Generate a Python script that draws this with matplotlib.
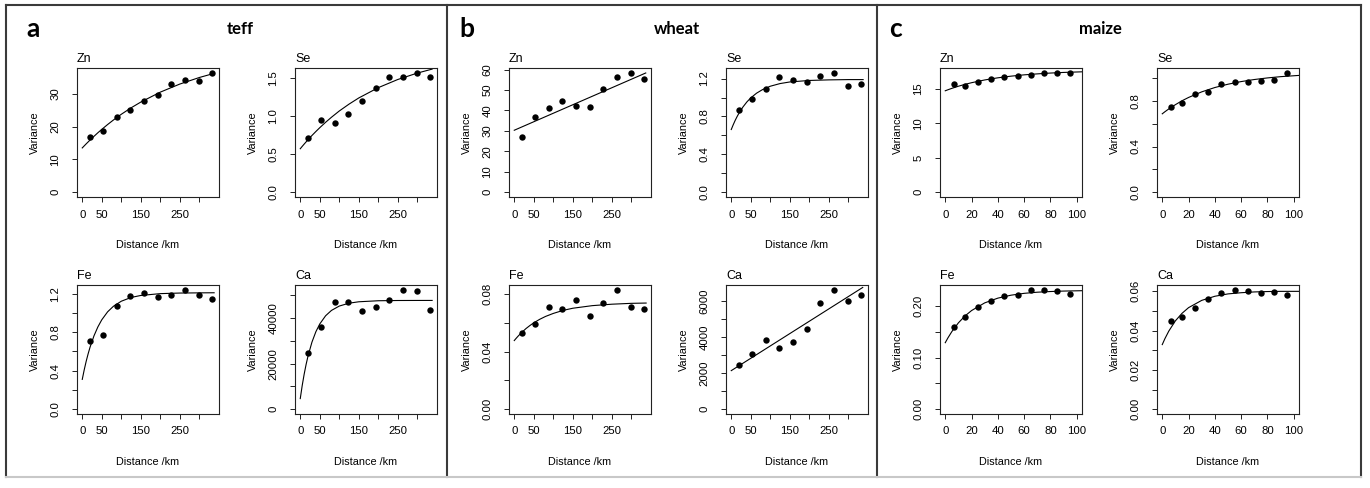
import matplotlib
matplotlib.use("Agg")
import matplotlib.pyplot as plt
from matplotlib.lines import Line2D

plt.rcParams['font.family'] = ['Liberation Sans', 'DejaVu Sans']

W, H = 1370, 488

crops = ["teff", "wheat", "maize"]
panel_letters = ["a", "b", "c"]
elements = ["Zn", "Se", "Fe", "Ca"]

# lag distances (km)
lag_teff_wheat = [21, 54, 88, 122, 158, 193, 228, 263, 298, 333]
lag_maize = [7, 15, 25, 35, 45, 55, 65, 75, 85, 95]

# empirical variances
teff_zn = [16.8, 18.8, 22.9, 25.1, 27.9, 29.6, 32.9, 34.2, 34.0, 36.4]
teff_se = [0.71, 0.947, 0.912, 1.026, 1.193, 1.36, 1.509, 1.509, 1.566, 1.509]
teff_fe = [0.714, 0.776, 1.076, 1.176, 1.207, 1.169, 1.19, 1.241, 1.19, 1.145]
teff_ca = [24781, 36152, 47085, 47230, 43149, 44898, 47813, 52478, 51749, 43440]
wheat_zn = [27.2, 36.9, 41.3, 44.7, 42.4, 41.8, 50.6, 56.1, 58.4, 55.6]
wheat_se = [0.870, 0.989, 1.095, 1.215, 1.187, 1.162, 1.222, 1.261, 1.120, 1.144]
wheat_fe = [0.0529, 0.0593, 0.0710, 0.0694, 0.0756, 0.0648, 0.0736, 0.0828, 0.0710, 0.0697]
wheat_ca = [2444, 3093, 3852, 3389, 3722, 4444, 5926, 6648, 6019, 6370]
maize_zn = [15.63, 15.34, 16.01, 16.35, 16.64, 16.88, 16.98, 17.27, 17.22, 17.32]
maize_se = [0.745, 0.782, 0.855, 0.873, 0.943, 0.964, 0.964, 0.969, 0.978, 1.045]
maize_fe = [0.160, 0.1787, 0.1974, 0.2097, 0.2194, 0.2206, 0.2316, 0.2303, 0.2297, 0.2232]
maize_ca = [0.0447, 0.0471, 0.0515, 0.0563, 0.0590, 0.0608, 0.0602, 0.0590, 0.0597, 0.0583]

# fitted model curves
fit_x_tw = [0, 5, 10, 15, 20, 30, 40, 50, 65, 80, 100, 125, 150, 200, 250, 300, 338]
teff_zn_fit = [13.5, 14.12, 14.73, 15.32, 15.90, 17.03, 18.12, 19.15, 20.63, 22.02, 23.75, 25.71, 27.47, 30.5, 32.96, 34.96, 36.22]
teff_se_fit = [0.57, 0.601, 0.631, 0.660, 0.689, 0.744, 0.796, 0.846, 0.917, 0.983, 1.065, 1.155, 1.236, 1.371, 1.478, 1.562, 1.614]
teff_fe_fit = [0.31, 0.409, 0.497, 0.575, 0.645, 0.762, 0.855, 0.929, 1.012, 1.070, 1.122, 1.161, 1.182, 1.201, 1.207, 1.209, 1.210]
teff_ca_fit = [4665, 10406, 15384, 19702, 23442, 29493, 34044, 37460, 41067, 43413, 45324, 46588, 47205, 47658, 47766, 47791, 47800]
wheat_se_fit = [0.662, 0.712, 0.758, 0.799, 0.836, 0.900, 0.953, 0.996, 1.046, 1.083, 1.119, 1.147, 1.164, 1.180, 1.186, 1.189, 1.189]
wheat_fe_fit = [0.0476, 0.0492, 0.0507, 0.0521, 0.0534, 0.0559, 0.0580, 0.0599, 0.0623, 0.0643, 0.0664, 0.0685, 0.0700, 0.0718, 0.0728, 0.0734, 0.0736]
fit_x_line = [0, 337]
wheat_zn_fit = [30.3, 58.3]
wheat_ca_fit = [2148, 6778]
fit_x_maize = [0, 2, 5, 10, 15, 20, 30, 40, 50, 60, 70, 80, 90, 104]
maize_zn_fit = [14.71, 14.855, 15.06, 15.37, 15.64, 15.88, 16.28, 16.59, 16.83, 17.02, 17.16, 17.28, 17.37, 17.46]
maize_se_fit = [0.686, 0.704, 0.729, 0.766, 0.800, 0.829, 0.878, 0.916, 0.945, 0.968, 0.986, 1.000, 1.011, 1.022]
maize_fe_fit = [0.129, 0.1382, 0.1505, 0.1675, 0.1808, 0.1913, 0.2062, 0.2154, 0.2211, 0.2247, 0.2269, 0.2282, 0.2291, 0.2298]
maize_ca_fit = [0.0329, 0.0359, 0.0398, 0.0450, 0.0488, 0.0517, 0.0554, 0.0575, 0.0587, 0.0593, 0.0597, 0.0599, 0.0600, 0.0600]

# x axis ticks
xticks_tw = [0, 50, 100, 150, 200, 250, 300]
xticklabels_tw = ["0", "50", "", "150", "", "250", ""]
xticks_maize = [0, 20, 40, 60, 80, 100]
xticklabels_maize = ["0", "20", "40", "60", "80", "100"]
xrange_tw = (0, 337)
xrange_maize = (0, 100)

# y axis ticks
teff_zn_yticks = [0, 10, 20, 30]
teff_zn_ylabels = ["0", "10", "20", "30"]
teff_se_yticks = [0, 0.5, 1.0, 1.5]
teff_se_ylabels = ["0.0", "0.5", "1.0", "1.5"]
teff_fe_yticks = [0, 0.2, 0.4, 0.6, 0.8, 1.0, 1.2]
teff_fe_ylabels = ["0.0", "", "0.4", "", "0.8", "", "1.2"]
teff_ca_yticks = [0, 10000, 20000, 30000, 40000, 50000]
teff_ca_ylabels = ["0", "", "20000", "", "40000", ""]
wheat_zn_yticks = [0, 10, 20, 30, 40, 50, 60]
wheat_zn_ylabels = ["0", "10", "20", "30", "40", "50", "60"]
wheat_se_yticks = [0, 0.2, 0.4, 0.6, 0.8, 1.0, 1.2]
wheat_se_ylabels = ["0.0", "", "0.4", "", "0.8", "", "1.2"]
wheat_fe_yticks = [0, 0.02, 0.04, 0.06, 0.08]
wheat_fe_ylabels = ["0.00", "", "0.04", "", "0.08"]
wheat_ca_yticks = [0, 1000, 2000, 3000, 4000, 5000, 6000]
wheat_ca_ylabels = ["0", "", "2000", "", "4000", "", "6000"]
maize_zn_yticks = [0, 5, 10, 15]
maize_zn_ylabels = ["0", "5", "10", "15"]
maize_se_yticks = [0, 0.2, 0.4, 0.6, 0.8, 1.0]
maize_se_ylabels = ["0.0", "", "0.4", "", "0.8", ""]
maize_fe_yticks = [0, 0.05, 0.10, 0.15, 0.20]
maize_fe_ylabels = ["0.00", "", "0.10", "", "0.20"]
maize_ca_yticks = [0, 0.01, 0.02, 0.03, 0.04, 0.05, 0.06]
maize_ca_ylabels = ["0.00", "", "0.02", "", "0.04", "", "0.06"]

xlabel_text = "Distance /km"
ylabel_text = "Variance"

# ---- tables built from the lists above ----
points = {
    "teff": [teff_zn, teff_se, teff_fe, teff_ca],
    "wheat": [wheat_zn, wheat_se, wheat_fe, wheat_ca],
    "maize": [maize_zn, maize_se, maize_fe, maize_ca],
}
fits = {
    "teff": [(fit_x_tw, teff_zn_fit), (fit_x_tw, teff_se_fit), (fit_x_tw, teff_fe_fit), (fit_x_tw, teff_ca_fit)],
    "wheat": [(fit_x_line, wheat_zn_fit), (fit_x_tw, wheat_se_fit), (fit_x_tw, wheat_fe_fit), (fit_x_line, wheat_ca_fit)],
    "maize": [(fit_x_maize, maize_zn_fit), (fit_x_maize, maize_se_fit), (fit_x_maize, maize_fe_fit), (fit_x_maize, maize_ca_fit)],
}
yticks = {
    "teff": [(teff_zn_yticks, teff_zn_ylabels), (teff_se_yticks, teff_se_ylabels), (teff_fe_yticks, teff_fe_ylabels), (teff_ca_yticks, teff_ca_ylabels)],
    "wheat": [(wheat_zn_yticks, wheat_zn_ylabels), (wheat_se_yticks, wheat_se_ylabels), (wheat_fe_yticks, wheat_fe_ylabels), (wheat_ca_yticks, wheat_ca_ylabels)],
    "maize": [(maize_zn_yticks, maize_zn_ylabels), (maize_se_yticks, maize_se_ylabels), (maize_fe_yticks, maize_fe_ylabels), (maize_ca_yticks, maize_ca_ylabels)],
}

fig = plt.figure(figsize=(W / 100, H / 100), dpi=100)

col_left_px = [77, 295, 509, 726, 940, 1157]
row_top_px = [68, 285]
ax_w_px, ax_h_px = 142, 129

for ci, crop in enumerate(crops):
    lags = lag_maize if crop == "maize" else lag_teff_wheat
    xr = xrange_maize if crop == "maize" else xrange_tw
    xt = xticks_maize if crop == "maize" else xticks_tw
    xtl = xticklabels_maize if crop == "maize" else xticklabels_tw
    for ei, el in enumerate(elements):
        col = 2 * ci + (ei % 2)
        row = ei // 2
        l = col_left_px[col] / W
        b = 1 - (row_top_px[row] + ax_h_px) / H
        ax = fig.add_axes([l, b, ax_w_px / W, ax_h_px / H])
        vals = points[crop][ei]
        fx_, fy_ = fits[crop][ei]
        ax.plot(fx_, fy_, '-', color='black', lw=0.8)
        ax.plot(lags, vals, 'o', color='black', ms=4.6, mew=0)
        span = xr[1] - xr[0]
        ax.set_xlim(xr[0] - 0.04 * span, xr[1] + 0.04 * span)
        m = max(vals)
        ax.set_ylim(-0.04 * m, 1.04 * m)
        ax.set_xticks(xt)
        ax.set_xticklabels(xtl)
        yt, ytl = yticks[crop][ei]
        ax.set_yticks(yt)
        ax.set_yticklabels(ytl, rotation=90, va='center')
        ax.tick_params(direction='out', length=3.5, width=0.7, labelsize=8.2, color='#222222')
        ax.tick_params(axis='x', pad=5.5)
        ax.tick_params(axis='y', pad=8.5)
        for s in ax.spines.values():
            s.set_linewidth(0.8)
            s.set_color('#222222')
        ax.set_title(el, loc='left', fontsize=9, pad=4.5)
        ax.set_xlabel(xlabel_text, fontsize=7.8)
        ax.xaxis.set_label_coords(0.5, -0.33)
        ax.set_ylabel(ylabel_text, fontsize=7.8)
        ax.yaxis.set_label_coords(-0.26, 0.5)

# panel frames
def fx(x):
    return x / W

def fy(y):
    return 1 - y / H

frame_col = '#3a3a3a'
for (x0, y0, x1, y1, c) in [
    (6, 5, 1361, 5, frame_col),
    (6, 5, 6, 477, frame_col),
    (1361, 5, 1361, 477, frame_col),
    (447, 5, 447, 477, frame_col),
    (877, 5, 877, 477, frame_col),
    (6, 477, 1361, 477, '#c8c8c8'),
]:
    fig.add_artist(Line2D([fx(x0), fx(x1)], [fy(y0), fy(y1)], transform=fig.transFigure, color=c, lw=1.5))

letter_x_px = [26, 459, 889]
crop_x_px = [227, 654, 1079]
for ci, crop in enumerate(crops):
    fig.text(fx(letter_x_px[ci]), fy(37), panel_letters[ci], fontsize=19, fontweight='bold',
             family=['Lato', 'DejaVu Sans'], va='baseline', ha='left')
    fig.text(fx(crop_x_px[ci]), fy(34), crop, fontsize=12, fontweight='bold',
             family=['Lato', 'DejaVu Sans'], va='baseline', ha='left')

fig.savefig("out.png", dpi=100)
